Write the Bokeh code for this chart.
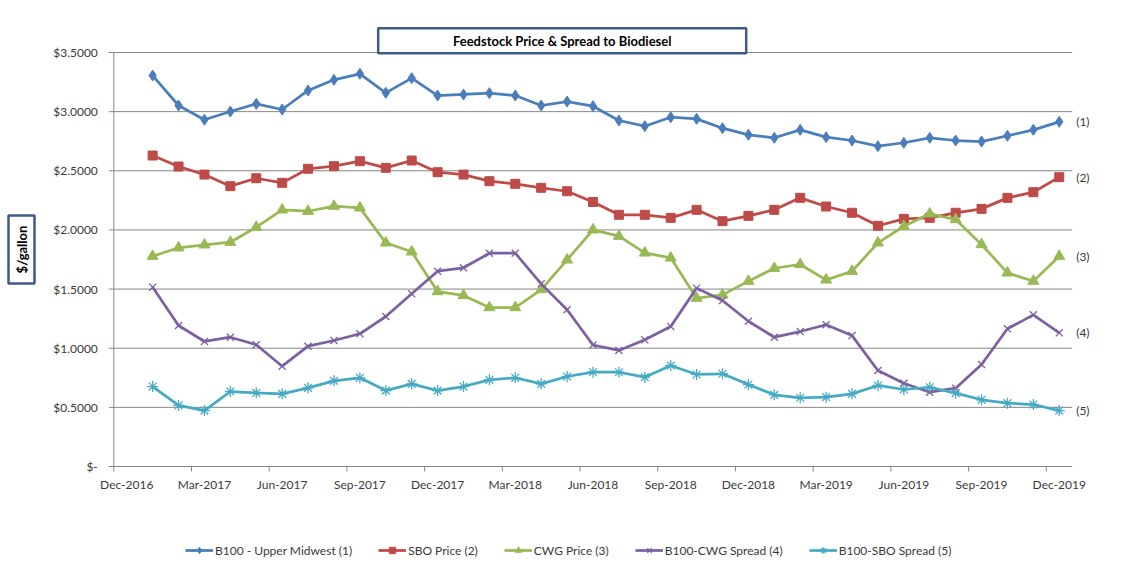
import math
from bokeh.plotting import figure
from bokeh.models import Range1d, Legend, LegendItem
from bokeh.embed import file_html
from bokeh.resources import INLINE
from bokeh.core.properties import value

# ---------------- data ----------------
month_names = ["Jan", "Feb", "Mar", "Apr", "May", "Jun",
               "Jul", "Aug", "Sep", "Oct", "Nov", "Dec"]
months = [f"{m}-{y}" for y in (2017, 2018, 2019) for m in month_names]

b100 = [3.305, 3.052, 2.931, 3.001, 3.066, 3.018, 3.179, 3.269, 3.320, 3.159, 3.283, 3.136,
        3.145, 3.156, 3.136, 3.052, 3.085, 3.046, 2.925, 2.877, 2.953, 2.939, 2.860, 2.804,
        2.779, 2.846, 2.784, 2.756, 2.708, 2.737, 2.779, 2.756, 2.747, 2.796, 2.846, 2.914]
sbo = [2.629, 2.536, 2.468, 2.370, 2.437, 2.398, 2.517, 2.539, 2.581, 2.525, 2.587, 2.488,
       2.468, 2.412, 2.390, 2.356, 2.327, 2.236, 2.128, 2.128, 2.102, 2.170, 2.074, 2.119,
       2.170, 2.271, 2.198, 2.145, 2.035, 2.094, 2.102, 2.145, 2.178, 2.271, 2.319, 2.446]
cwg = [1.778, 1.849, 1.874, 1.896, 2.023, 2.170, 2.158, 2.201, 2.187, 1.891, 1.815, 1.479,
       1.446, 1.344, 1.344, 1.496, 1.747, 2.001, 1.947, 1.806, 1.764, 1.423, 1.451, 1.567,
       1.676, 1.708, 1.578, 1.651, 1.891, 2.031, 2.136, 2.088, 1.877, 1.637, 1.567, 1.778]
spread_cwg = [1.516, 1.192, 1.057, 1.093, 1.029, 0.848, 1.017, 1.065, 1.122, 1.268, 1.460, 1.651,
              1.680, 1.803, 1.803, 1.544, 1.325, 1.027, 0.981, 1.071, 1.184, 1.508, 1.403, 1.228,
              1.093, 1.141, 1.198, 1.107, 0.812, 0.704, 0.628, 0.662, 0.862, 1.164, 1.282, 1.130]
spread_sbo = [0.676, 0.516, 0.473, 0.634, 0.623, 0.614, 0.665, 0.724, 0.750, 0.642, 0.699, 0.642,
              0.676, 0.733, 0.750, 0.699, 0.761, 0.797, 0.797, 0.755, 0.854, 0.778, 0.784, 0.693,
              0.606, 0.581, 0.586, 0.614, 0.685, 0.651, 0.670, 0.620, 0.564, 0.535, 0.524, 0.473]

series_names = ["B100 - Upper Midwest (1)", "SBO Price (2)", "CWG Price (3)",
                "B100-CWG Spread (4)", "B100-SBO Spread (5)"]
series_tags = ["(1)", "(2)", "(3)", "(4)", "(5)"]

x_tick_labels = ["Dec-2016", "Mar-2017", "Jun-2017", "Sep-2017", "Dec-2017", "Mar-2018",
                 "Jun-2018", "Sep-2018", "Dec-2018", "Mar-2019", "Jun-2019", "Sep-2019", "Dec-2019"]
y_ticks = [0, 0.5, 1.0, 1.5, 2.0, 2.5, 3.0, 3.5]
y_tick_labels = ["$-", "$0.5000", "$1.0000", "$1.5000", "$2.0000", "$2.5000", "$3.0000", "$3.5000"]

title_text = "Feedstock Price & Spread to Biodiesel"
y_title = "$/gallon"

# month index: Dec-2016 = 0, Jan-2017 = 1, ...
x = [i + 1 for i in range(len(months))]
x_tick_pos = [3 * i for i in range(len(x_tick_labels))]
x_boundaries = [t - 0.5 for t in x_tick_pos]

# ---------------- layout constants ----------------
W, H = 1121, 569
X0, X1 = -0.5, 36.5          # data extent of the plotting area (months)
Y0, Y1 = 0.0, 3.5
PX_L, PX_R, PX_T, PX_B = 113.3, 1071.7, 52.0, 466.0   # plotting area in pixels
kx = (PX_R - PX_L) / (X1 - X0)
ky = (PX_B - PX_T) / (Y1 - Y0)
xr = Range1d(X0 - PX_L / kx, X1 + (W - PX_R) / kx)
yr = Range1d(Y0 - (H - PX_B) / ky, Y1 + PX_T / ky)

FONT = "Lato"
GRID = "#868686"
TXT = "#3a3a3a"
BOX = "#3b5b86"
colors = ["#4a7ebb", "#be4b48", "#98b954", "#7d60a0", "#46aac5"]
markers = ["diamond", "square", "triangle", "x", "asterisk"]
msizes = [11, 9, 11, 10, 11]

p = figure(width=W, height=H, output_backend="svg", toolbar_location=None,
           x_range=xr, y_range=yr, x_axis_type=None, y_axis_type=None,
           min_border=0)
p.outline_line_color = None
p.background_fill_color = "white"
p.border_fill_color = "white"

# horizontal gridlines + y axis
p.segment(x0=[X0] * len(y_ticks), x1=[X1] * len(y_ticks), y0=y_ticks, y1=y_ticks,
          line_color=GRID, line_width=1)
p.segment(x0=[X0], x1=[X0], y0=[Y0], y1=[Y1], line_color=GRID, line_width=1)
p.ray(x=[X0] * len(y_ticks), y=y_ticks, length=5, length_units="screen", angle=math.pi,
      line_color=GRID, line_width=1)
p.text(x=[X0] * len(y_ticks), y=y_ticks, text=y_tick_labels, x_offset=-16,
       text_align="right", text_baseline="middle", text_font=value(FONT),
       text_font_size="12px", text_color=TXT)

# x axis ticks (month boundaries) + labels (month centres)
p.ray(x=x_boundaries, y=[Y0] * len(x_boundaries), length=5, length_units="screen",
      angle=-math.pi / 2, line_color=GRID, line_width=1)
p.text(x=x_tick_pos, y=[Y0] * len(x_tick_pos), text=x_tick_labels, y_offset=10,
       text_align="center", text_baseline="top", text_font=value(FONT),
       text_font_size="12px", text_color=TXT)

# series
all_series = [b100, sbo, cwg, spread_cwg, spread_sbo]
items = []
for name, ys, c, m, ms in zip(series_names, all_series, colors, markers, msizes):
    ln = p.line(x, ys, line_color=c, line_width=2.75)
    if m in ("x", "asterisk"):
        sc = p.scatter(x, ys, marker=m, size=ms, line_color=c, line_width=1.3, fill_color=None)
    else:
        sc = p.scatter(x, ys, marker=m, size=ms, line_color=c, fill_color=c)
    items.append(LegendItem(label=name, renderers=[ln, sc]))

# series tags at the right end
last_vals = [s[-1] for s in all_series]
p.text(x=[X1] * len(last_vals), y=last_vals, text=series_tags, x_offset=4,
       text_align="left", text_baseline="middle", text_font=value(FONT),
       text_font_size="12px", text_color=TXT)

# title box
tx = X0 + (561.7 - PX_L) / kx
ty = Y1 + (PX_T - 40.3) / ky
p.rect(x=[tx], y=[ty], width=368, height=25, width_units="screen", height_units="screen",
       fill_color="white", line_color=BOX, line_width=2.5)
p.text(x=[tx], y=[ty], text=[title_text], text_align="center", text_baseline="middle",
       text_font=value(FONT), text_font_size="13px", text_font_style="bold",
       text_color="black")

# y-axis title box
yx = X0 + (21.0 - PX_L) / kx
yy = Y0 + (PX_B - 249.0) / ky
p.rect(x=[yx], y=[yy], width=26, height=68, width_units="screen", height_units="screen",
       fill_color="white", line_color=BOX, line_width=2.5)
p.text(x=[yx], y=[yy], text=[y_title], angle=math.pi / 2, text_align="center",
       text_baseline="middle", text_font=value(FONT), text_font_size="13px",
       text_font_style="bold", text_color="black")

legend = Legend(items=items, location=(185, 11), orientation="horizontal",
                label_text_font=FONT, label_text_font_size="12px", label_text_color=TXT,
                glyph_width=28, glyph_height=16, label_height=16, label_standoff=2,
                spacing=26, padding=0, margin=0,
                border_line_color=None, background_fill_alpha=0)
p.add_layout(legend, "center")

open("out.html", "w").write(file_html(p, INLINE))
